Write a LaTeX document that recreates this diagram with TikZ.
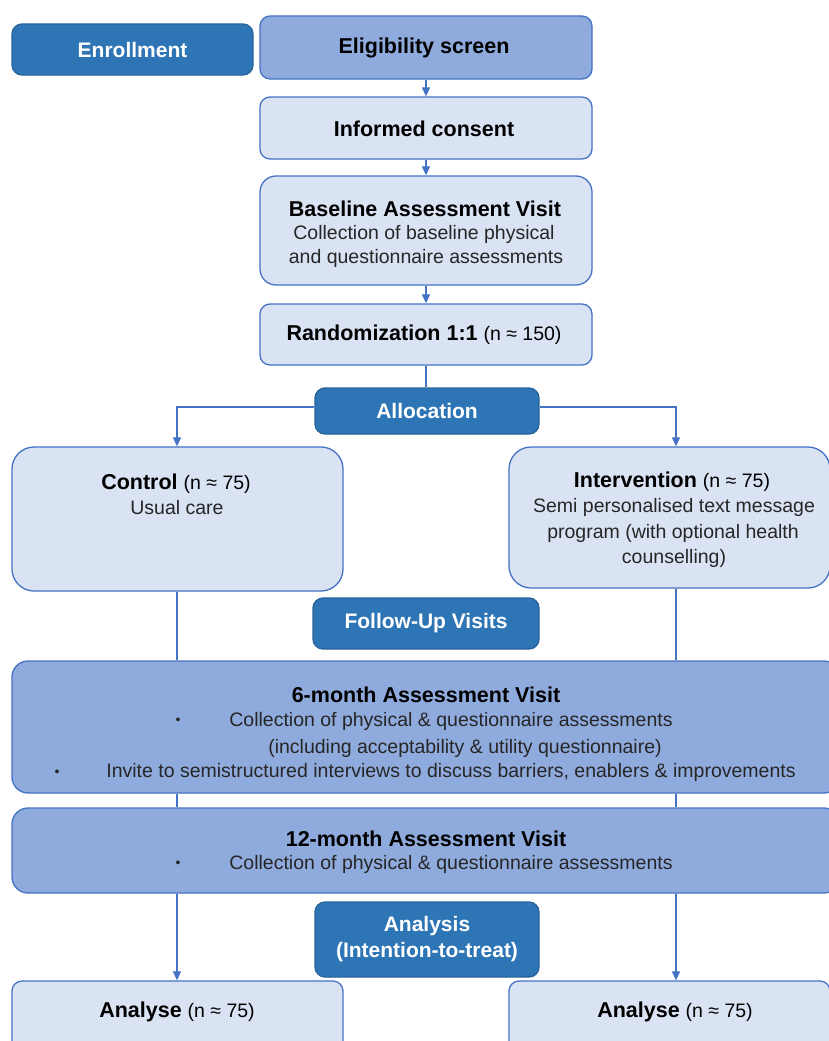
\documentclass[tikz,border=0pt]{standalone}
\usepackage{fontspec}
\setmainfont{Liberation Sans}
\usetikzlibrary{arrows.meta}
\definecolor{darkblue}{HTML}{2E75B6}
\definecolor{midblue}{HTML}{8FAADC}
\definecolor{lightblue}{HTML}{DAE3F3}
\definecolor{edgeblue}{HTML}{4472C4}
\tikzset{
  box/.style={draw=edgeblue, line width=1.3pt, rounded corners=10pt, inner sep=0pt},
  lightbox/.style={box, fill=lightblue},
  midbox/.style={box, fill=midblue},
  darkbox/.style={box, fill=darkblue, draw=darkblue!85!black, text=white, font=\fontsize{21}{26}\selectfont\bfseries},
  title/.style={inner sep=0pt, font=\fontsize{21.5}{26}\selectfont},
  body/.style={inner sep=0pt, font=\fontsize{19.5}{23}\selectfont, text=black!85},
  bullet/.style={inner sep=0pt, font=\fontsize{14}{16}\selectfont, text=black!85},
  conn/.style={draw=edgeblue, line width=1.2pt},
  arr/.style={conn, -{Triangle[length=9pt,width=8pt]}},
}
\newcommand{\nval}[1]{{\fontsize{19.5}{23}\selectfont #1}}
\begin{document}
\begin{tikzpicture}[x=1pt,y=-1pt]
\useasboundingbox (0,0) rectangle (829,1041);
\clip (0,0) rectangle (829,1041);
\fill[white] (0,0) rectangle (829,1041);

% enrollment stage
\node[darkbox, minimum width=241pt, minimum height=51pt] (enrol) at (132.5,49.5) {Enrollment};
\node[midbox, minimum width=332pt, minimum height=63pt] (elig) at (426,47.5) {};
\node[title] (eligt) at (424,48) {\textbf{Eligibility screen}};
\node[lightbox, minimum width=332pt, minimum height=62pt] (consent) at (426,128) {};
\node[title] (consentt) at (424,129) {\textbf{Informed consent}};
\node[lightbox, rounded corners=16pt, minimum width=332pt, minimum height=109pt] (base) at (426,230.5) {};
\node[title] (baset) at (425,209) {\textbf{Baseline Assessment Visit}};
\node[body] (base1) at (424,234) {Collection of baseline physical};
\node[body] (base2) at (426,258) {and questionnaire assessments};
\node[lightbox, minimum width=332pt, minimum height=61pt] (rand) at (426,334.5) {};
\node[title] (randt) at (424,335) {\textbf{Randomization 1:1} \nval{(n ≈ 150)}};

% allocation
\node[darkbox, minimum width=224pt, minimum height=46pt] (alloc) at (427,411) {Allocation};
\node[lightbox, rounded corners=22pt, minimum width=331pt, minimum height=144pt] (ctrl) at (177.5,519) {};
\node[title] (ctrlt) at (176,484) {\textbf{Control} \nval{(n ≈ 75)}};
\node[body] (ctrl1) at (177,508) {Usual care};
\node[lightbox, rounded corners=22pt, minimum width=321pt, minimum height=141pt] (intv) at (669.5,517.5) {};
\node[title] (intvt) at (672,482) {\textbf{Intervention} \nval{(n ≈ 75)}};
\node[body] (intv1) at (674,507) {Semi personalised text message};
\node[body] (intv2) at (673,533) {program (with optional health};
\node[body] (intv3) at (674,558) {counselling)};

% follow-up visits
\node[darkbox, minimum width=226pt, minimum height=51pt] (fu) at (426,623.5) {Follow-Up Visits};
\node[midbox, rounded corners=16pt, minimum width=828pt, minimum height=132pt] (six) at (426,727) {};
\node[title] (sixt) at (426,695) {\textbf{6-month Assessment Visit}};
\node[bullet] (sixb1) at (178,721) {•};
\node[body] (six1) at (451,721) {Collection of physical \& questionnaire assessments};
\node[body] (six2) at (465,748) {(including acceptability \& utility questionnaire)};
\node[bullet] (sixb2) at (57,773) {•};
\node[body] (six3) at (451,772) {Invite to semistructured interviews to discuss barriers, enablers \& improvements};
\node[midbox, rounded corners=16pt, minimum width=828pt, minimum height=85pt] (twelve) at (426,850.5) {};
\node[title] (twelvet) at (426,839) {\textbf{12-month Assessment Visit}};
\node[bullet] (twb1) at (178,864) {•};
\node[body] (tw1) at (451,864) {Collection of physical \& questionnaire assessments};

% analysis
\node[darkbox, align=center, minimum width=224pt, minimum height=75pt] (anal) at (427,939.5) {Analysis\\(Intention-to-treat)};
\node[lightbox, minimum width=331pt, minimum height=79pt] (anl) at (177.5,1020.5) {};
\node[title] (anlt) at (177,1012) {\textbf{Analyse} \nval{(n ≈ 75)}};
\node[lightbox, minimum width=321pt, minimum height=79pt] (anr) at (669.5,1020.5) {};
\node[title] (anrt) at (675,1012) {\textbf{Analyse} \nval{(n ≈ 75)}};

% connectors
\coordinate (cx) at (177,0);
\coordinate (ix) at (676,0);
\draw[arr] (elig.south) -- (consent.north);
\draw[arr] (consent.south) -- (base.north);
\draw[arr] (base.south) -- (rand.north);
\draw[conn] (rand.south) -- (rand.south |- alloc.north);
\draw[arr] ([yshift=4pt]alloc.west) -| (cx |- ctrl.north);
\draw[arr] ([yshift=4pt]alloc.east) -| (ix |- intv.north);
\draw[conn] (cx |- ctrl.south) -- (cx |- six.north);
\draw[conn] (ix |- intv.south) -- (ix |- six.north);
\draw[conn] (cx |- six.south) -- (cx |- twelve.north);
\draw[conn] (ix |- six.south) -- (ix |- twelve.north);
\draw[arr] (cx |- twelve.south) -- (cx |- anl.north);
\draw[arr] (ix |- twelve.south) -- (ix |- anr.north);
\end{tikzpicture}
\end{document}
